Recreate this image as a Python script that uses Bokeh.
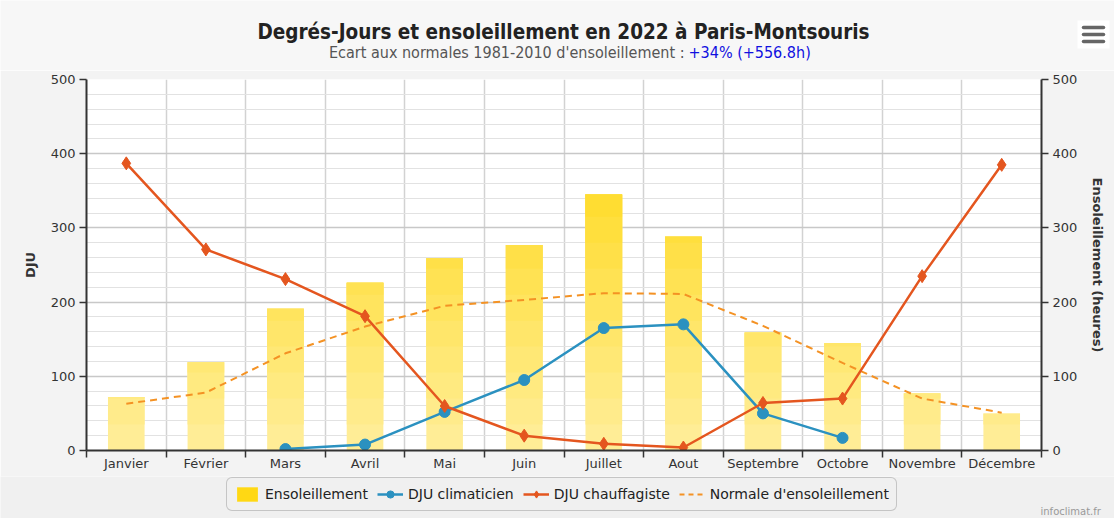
import math
from bokeh.plotting import figure
from bokeh.layouts import column, row
from bokeh.models import (Range1d, LinearAxis, FixedTicker, Legend, LegendItem,
                          ColumnDataSource)
from bokeh.core.properties import value
from bokeh.embed import file_html
from bokeh.resources import INLINE

months = ["Janvier", "Février", "Mars", "Avril", "Mai", "Juin", "Juillet",
          "Aout", "Septembre", "Octobre", "Novembre", "Décembre"]
ensoleillement = [72, 119, 191, 226, 259, 277, 345, 288, 159, 145, 77, 50]
dju_climaticien = [math.nan, math.nan, 2, 8, 52, 95, 165, 170, 50, 17, math.nan, math.nan]
dju_chauffagiste = [387, 271, 231, 181, 60, 20, 9, 4, 64, 70, 235, 385]
normale_ensoleillement = [63, 78, 131, 167, 195, 203, 212, 211, 168, 118, 70, 51]
y_ticks = [0, 100, 200, 300, 400, 500]

title = "Degrés-Jours et ensoleillement en 2022 à Paris-Montsouris"
subtitle = "Ecart aux normales 1981-2010 d'ensoleillement :"
subtitle_value = "+34% (+556.8h)"
credit = "infoclimat.fr"

FONT = "DejaVu Sans"
FONT_C = "DejaVu Sans Condensed"
W = 1114
HEAD_H = 70
MAIN_TOP, MAIN_BOTTOM = 9, 26
FRAME_H = 371
FOOT_H = 520 - HEAD_H - MAIN_TOP - FRAME_H - MAIN_BOTTOM - 2

C_SUN_LOW = (255, 238, 156)
C_SUN_HIGH = (255, 220, 44)
C_SUN_LEG = "#FFD814"
C_CLIM = "#2B91C0"
C_CHAUF = "#E4561F"
C_NORM = "#F49224"

# ---------------- header ----------------
head = figure(width=W, height=HEAD_H, x_range=Range1d(0, W), y_range=Range1d(HEAD_H, 0),
              output_backend="svg", toolbar_location=None, min_border=0,
              background_fill_color="#f7f7f7", border_fill_color="#f7f7f7",
              outline_line_color=None)
head.axis.visible = False
head.grid.visible = False
head.text(x=[563], y=[31], text=[title], text_align="center", text_baseline="middle",
          text_font=value(FONT_C), text_font_size="20.5px", text_font_style="bold",
          text_color="#222222")
head.text(x=[684], y=[52], text=[subtitle], text_align="right", text_baseline="middle",
          text_font=value(FONT_C), text_font_size="16px", text_color="#555555")
head.text(x=[688], y=[52], text=[subtitle_value], text_align="left", text_baseline="middle",
          text_font=value(FONT_C), text_font_size="16px", text_color="#1010e0")
# export menu icon
head.quad(left=[1077], right=[1109], top=[20], bottom=[48], fill_color="white",
          line_color=None)
head.segment(x0=[1083] * 3, x1=[1103] * 3, y0=[27, 34, 41], y1=[27, 34, 41],
             line_color="#666666", line_width=3.5, line_cap="round")

# ---------------- main plot ----------------
xpos = [i + 0.5 for i in range(len(months))]
src = ColumnDataSource(dict(x=xpos, sun=ensoleillement, clim=dju_climaticien,
                            chauf=dju_chauffagiste, norm=normale_ensoleillement))

p = figure(frame_width=955, frame_height=FRAME_H,
           x_range=Range1d(0, len(months)), y_range=Range1d(0, 500),
           output_backend="svg", toolbar_location=None,
           min_border_left=86, min_border_right=73, min_border_top=MAIN_TOP,
           min_border_bottom=MAIN_BOTTOM,
           background_fill_color="white", border_fill_color="#f3f3f3",
           outline_line_color=None)
p.extra_y_ranges = {"sun": Range1d(0, 500)}

p.xgrid.grid_line_color = None
p.xgrid.minor_grid_line_color = "#d2d2d2"
p.xgrid.minor_grid_line_width = 1.5
p.ygrid.grid_line_color = "#c8c8c8"
p.ygrid.grid_line_width = 1.5
p.ygrid.minor_grid_line_color = "#e2e2e2"
p.ygrid.minor_grid_line_width = 1

yt = FixedTicker(ticks=y_ticks, minor_ticks=list(range(0, 501, 20)))
xt = FixedTicker(ticks=xpos, minor_ticks=list(range(len(months) + 1)))

p.xaxis.ticker = xt
p.xgrid.ticker = xt
p.xaxis.major_label_overrides = {x: m for x, m in zip(xpos, months)}
p.xaxis.major_tick_line_color = None
p.xaxis.major_tick_out = 0
p.xaxis.major_tick_in = 0
p.xaxis.minor_tick_line_color = "#333333"
p.xaxis.minor_tick_out = 7
p.xaxis.minor_tick_in = 0
p.xaxis.minor_tick_line_width = 1.5
p.xaxis.axis_line_color = "#333333"
p.xaxis.axis_line_width = 2
p.xaxis.major_label_text_font = FONT
p.xaxis.major_label_text_font_size = "13px"
p.xaxis.major_label_text_color = "#333333"
p.xaxis.major_label_standoff = -2

p.yaxis.ticker = yt
p.ygrid.ticker = yt
p.yaxis.axis_label = "DJU"

right = LinearAxis(y_range_name="sun", ticker=yt, axis_label="Ensoleillement (heures)")
p.add_layout(right, "right")

for ax in (p.yaxis[0], right):
    ax.axis_line_color = "#333333"
    ax.axis_line_width = 2
    ax.major_tick_line_color = "#333333"
    ax.major_tick_line_width = 1.5
    ax.major_tick_out = 7
    ax.major_tick_in = 0
    ax.minor_tick_line_color = None
    ax.major_label_text_font = FONT
    ax.major_label_text_font_size = "13px"
    ax.major_label_text_color = "#333333"
    ax.major_label_standoff = 4
    ax.axis_label_text_font = FONT
    ax.axis_label_text_font_size = "13px"
    ax.axis_label_text_font_style = "bold"
    ax.axis_label_text_color = "#333333"
    ax.axis_label_standoff = 10

# sunshine bars: vertical colour gradient built from overlapping layers
BAND = 35
for k in range(11):
    lo = k * BAND
    t = min(1.0, (lo + BAND / 2) / 350)
    rgb = tuple(int(round(a + (b - a) * t)) for a, b in zip(C_SUN_LOW, C_SUN_HIGH))
    col = "#%02x%02x%02x" % rgb
    xs = [x for x, v in zip(xpos, ensoleillement) if v > lo]
    tops = [v for v in ensoleillement if v > lo]
    if not xs:
        continue
    p.vbar(x=xs, bottom=lo, top=tops, width=0.46, y_range_name="sun",
           fill_color=col, line_color=None)

p.line("x", "norm", source=src, y_range_name="sun", line_color=C_NORM,
       line_width=2, line_dash="7 5")
p.line("x", "clim", source=src, line_color=C_CLIM, line_width=2.5)
p.scatter("x", "clim", source=src, marker="circle", size=11,
          fill_color=C_CLIM, line_color=C_CLIM)
p.line("x", "chauf", source=src, line_color=C_CHAUF, line_width=2.5)
p.scatter("x", "chauf", source=src, marker="diamond", size=13,
          fill_color=C_CHAUF, line_color=C_CHAUF)

# ---------------- footer with legend ----------------
foot = figure(width=W, height=FOOT_H, x_range=Range1d(0, W), y_range=Range1d(FOOT_H, 0),
              output_backend="svg", toolbar_location=None, min_border=0,
              background_fill_color="#f0f0f0", border_fill_color="#f0f0f0",
              outline_line_color=None)
foot.axis.visible = False
foot.grid.visible = False
off = ColumnDataSource(dict(x=[-5000, -5001], y=[-5000, -5001]))
r_sun = foot.rect("x", "y", width=1, height=1, source=off, fill_color=C_SUN_LEG,
                  line_color=None)
r_clim_l = foot.line("x", "y", source=off, line_color=C_CLIM, line_width=2.5)
r_clim_m = foot.scatter("x", "y", source=off, marker="circle", size=9,
                        fill_color=C_CLIM, line_color=C_CLIM)
r_ch_l = foot.line("x", "y", source=off, line_color=C_CHAUF, line_width=2.5)
r_ch_m = foot.scatter("x", "y", source=off, marker="diamond", size=11,
                      fill_color=C_CHAUF, line_color=C_CHAUF)
r_norm = foot.line("x", "y", source=off, line_color=C_NORM, line_width=2, line_dash="5 4")

legend = Legend(items=[
    LegendItem(label="Ensoleillement", renderers=[r_sun], index=0),
    LegendItem(label="DJU climaticien", renderers=[r_clim_l, r_clim_m], index=0),
    LegendItem(label="DJU chauffagiste", renderers=[r_ch_l, r_ch_m], index=0),
    LegendItem(label="Normale d'ensoleillement", renderers=[r_norm], index=0),
], orientation="horizontal", location=(226, 7))
legend.label_text_font = FONT
legend.label_text_font_size = "14px"
legend.label_text_color = "#222222"
legend.border_line_color = "#999999"
legend.border_line_width = 1
legend.border_radius = 6
legend.background_fill_color = "#f0f0f0"
legend.background_fill_alpha = 1
legend.padding = 7
legend.spacing = 9
legend.margin = 0
legend.glyph_width = 26
legend.glyph_height = 18
legend.label_standoff = 5
foot.add_layout(legend, "center")

foot.text(x=[1040], y=[FOOT_H - 7], text=[credit], text_align="left",
          text_baseline="middle", text_font=value(FONT), text_font_size="10px",
          text_color="#999999")

layout = column(row(head), row(p), row(foot), spacing=0)
open("out.html", "w").write(file_html(layout, INLINE))
